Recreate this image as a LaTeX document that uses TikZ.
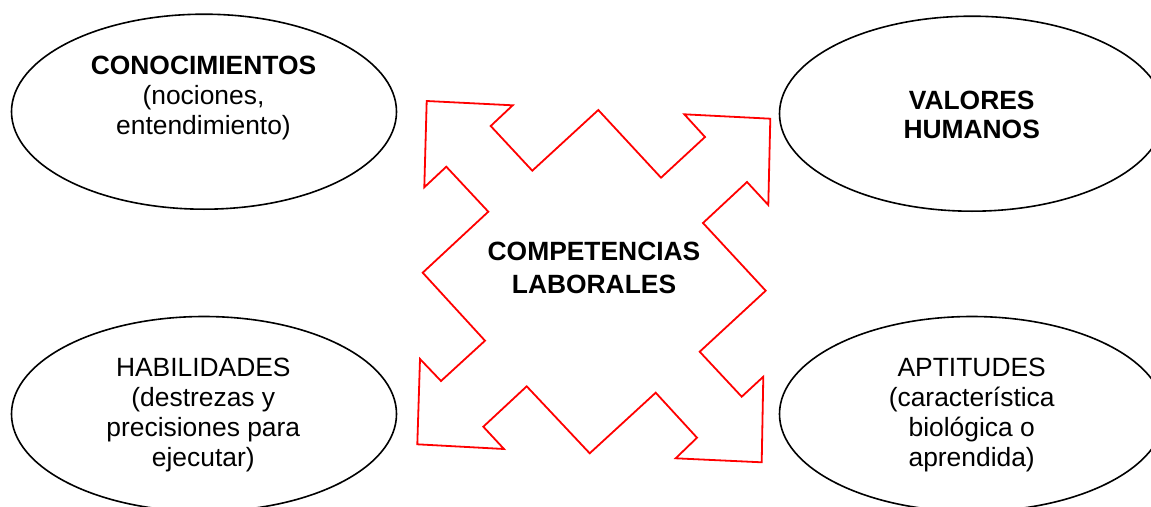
\documentclass[tikz,border=0pt]{standalone}
\usepackage{fontspec}
\setmainfont{Liberation Sans}
\usetikzlibrary{shapes.geometric}
\begin{document}
\begin{tikzpicture}[x=1pt,y=-1pt,
  oval/.style={ellipse,draw=black,line width=1.6pt,inner sep=0pt,minimum width=385pt,minimum height=195pt},
  lbl/.style={anchor=base,align=center,inner sep=0pt,font=\fontsize{26.4}{30}\selectfont},
  star/.style={draw=red,line width=1.8pt,line join=miter}]
\useasboundingbox (0,0) rectangle (1151,506);
\clip (0,0) rectangle (1151,506);
\fill[white] (0,0) rectangle (1151,506);
% ellipses
\node[oval] (tl) at (204,111.7) {};
\node[oval] (tr) at (972,113.7) {};
\node[oval] (bl) at (204,414) {};
\node[oval] (br) at (972,414) {};
% red four-way arrow shape
\draw[star] (426.7,101) -- (512.7,105.3) -- (490.7,126) -- (532.3,170.7) -- (598.3,110)
  -- (661,177.7) -- (705,137) -- (684.3,114.3) -- (770.3,118.7) -- (768.3,205)
  -- (747,182) -- (703,223) -- (765.7,290.7) -- (699.7,351.7) -- (741.7,396.7)
  -- (763.3,376.7) -- (761.7,462.3) -- (675.7,458.3) -- (697,437.7) -- (655.7,392.7)
  -- (589.7,453.3) -- (526.7,386.3) -- (483.3,426.7) -- (504,449) -- (417.3,444.3)
  -- (420,359) -- (441,381) -- (485,340.7) -- (422.7,272.7) -- (488.3,211.7)
  -- (446.3,166.7) -- (424.3,187.3) -- cycle;
% labels (anchor = baseline of the last line)
\node[lbl] (conoc) at (203.5,134) {\textbf{CONOCIMIENTOS}\\(nociones,\\entendimiento)};
\node[lbl,font=\fontsize{26.4}{29}\selectfont\bfseries] (valores) at (971.7,138.3) {VALORES\\HUMANOS};
\node[lbl,font=\fontsize{26.4}{33}\selectfont\bfseries] (comp) at (594,293) {COMPETENCIAS\\LABORALES};
\node[lbl] (habil) at (203.3,466.7) {HABILIDADES\\(destrezas y\\precisiones para\\ejecutar)};
\node[lbl] (apt) at (971.7,466.7) {APTITUDES\\(característica\\biológica o\\aprendida)};
\end{tikzpicture}
\end{document}
